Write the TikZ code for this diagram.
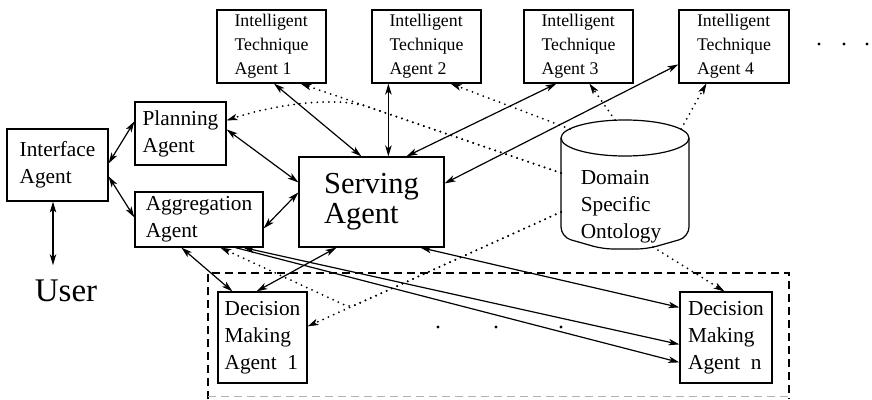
\documentclass[tikz,border=0pt]{standalone}
\usepackage{fontspec}
\setmainfont{Liberation Serif}
\usetikzlibrary{arrows.meta,calc}
\begin{document}
\begin{tikzpicture}[x=1pt,y=-1pt,
  box/.style={draw, line width=1.2pt, inner sep=0pt, align=left},
  ita/.style={box, minimum width=109pt, minimum height=73pt,
    font=\fontsize{17.8}{24}\selectfont},
  agentbox/.style={box, font=\fontsize{21.3}{27}\selectfont},
  tip/.tip={Stealth[length=11pt,width=6.5pt,inset=3pt]},
  link/.style={line width=1.2pt, tip-tip},
  onelink/.style={line width=1.2pt, -tip},
  dotlink/.style={line width=2pt, line cap=round, dash pattern=on 0pt off 5.8pt,
    -{Stealth[length=11pt,width=6.5pt,inset=3pt,line width=0.6pt]}},
  shape line/.style={line width=1.2pt},
  groupframe/.style={line width=1.2pt, dash pattern=on 8pt off 5pt},
  dotmark/.style={fill=black}
]
\useasboundingbox (0,0) rectangle (872,399);

% group of decision making agents
\draw[groupframe] (208,399) -- (208,273) -- (789,273) -- (789,399);
\draw[groupframe, gray!60, line width=0.8pt] (208,396) -- (789,396);

% intelligent technique agents
\node[ita] (ita1) at (271.5,46.5) {Intelligent\\Technique\\Agent 1};
\node[ita] (ita2) at (426.5,46.5) {Intelligent\\Technique\\Agent 2};
\node[ita] (ita3) at (578.5,46.5) {Intelligent\\Technique\\Agent 3};
\node[ita, minimum width=110pt] (ita4) at (734,46.5) {Intelligent\\Technique\\Agent 4};
\fill[dotmark] (819,44) circle (1.6pt);
\fill[dotmark] (844,44) circle (1.6pt);
\fill[dotmark] (867,44) circle (1.6pt);

% agents on the left and centre
\node[agentbox, minimum width=101pt, minimum height=72pt] (iface) at (57.5,165) {Interface\\Agent};
\node[agentbox, minimum width=91pt, minimum height=63pt] (plan) at (180.5,133.5) {Planning\\Agent};
\node[agentbox, minimum width=128pt, minimum height=55pt] (aggr) at (199,219.5) {Aggregation\\Agent};
\node[box, minimum width=145pt, minimum height=90pt,
  font=\fontsize{30.5}{30}\selectfont] (serv) at (371.5,202) {Serving\\Agent};
\node[inner sep=0pt, anchor=base, font=\fontsize{33}{36}\selectfont] (user) at (66,301) {User};

% decision making agents
\node[agentbox, minimum width=89pt, minimum height=91pt] (dm1) at (262.5,337.5) {Decision\\Making\\Agent~~1};
\node[agentbox, minimum width=92pt, minimum height=91pt] (dmn) at (726,337.5) {Decision\\Making\\Agent~~n};
\fill[dotmark] (438,327) circle (1.6pt);
\fill[dotmark] (496,327) circle (1.6pt);
\fill[dotmark] (561,327) circle (1.6pt);

% domain specific ontology (cylinder)
\draw[shape line] (625,138) ellipse (64pt and 18pt);
\draw[shape line, rounded corners=10pt] (561,138) -- (561,237) -- (603,249) -- (647,249) -- (689,237) -- (689,138);
\node[align=left, inner sep=0pt, font=\fontsize{21.3}{27}\selectfont] (onto) at (621,207) {Domain\\Specific\\Ontology};
\coordinate (oA) at (561,173);
\coordinate (oB) at (561,212);
\coordinate (oC) at (570,129);
\coordinate (oD) at (615,120);
\coordinate (oE) at (681,129);
\coordinate (oF) at (653,247);

% message links
\draw[link] ($(iface.north east)+(0,35)$) -- ($(plan.north west)+(0,20)$);
\draw[link] ($(iface.north east)+(0,48)$) -- ($(aggr.north west)+(0,26)$);
\draw[link] ($(iface.south)+(-4.5,0)$) -- ($(user.north)+(-13,-14)$);
\draw[link] ($(plan.north east)+(0,28)$) -- ($(serv.north west)+(0,26)$);
\draw[link] ($(aggr.north east)+(0,37)$) -- ($(serv.north west)+(0,36)$);
\draw[link] ($(ita1.south)+(2.5,0)$) -- ($(serv.north west)+(63,0)$);
\draw[link] ($(ita2.south west)+(17,0)$) -- ($(serv.north west)+(90,0)$);
\draw[link] ($(ita3.south west)+(33,0)$) -- ($(serv.north west)+(108,0)$);
\draw[link] ($(ita4.north west)+(0,55)$) -- ($(serv.north east)+(0,27)$);
\draw[link] ($(aggr.south west)+(47,0)$) -- ($(dm1.north west)+(15,0)$);
\draw[link] ($(serv.south west)+(38,0)$) -- ($(dm1.north west)+(39,0)$);
\draw[link] ($(serv.south west)+(122,0)$) -- ($(dmn.north west)+(0,16)$);
\draw[link] ($(aggr.south west)+(109,0)$) -- ($(dmn.north west)+(0,53)$);
\draw[onelink] ($(aggr.south west)+(101,0)$) -- ($(dmn.north west)+(0,71)$);

% ontology links
\draw[dotlink] (oA) -- ($(ita1.south east)+(-26,0)$);
\draw[dotlink] (oA) -- (365,106) .. controls (330,96) and (270,106) .. ($(plan.north east)+(0,19)$);
\draw[dotlink] (oC) -- ($(ita2.south east)+(-31,0)$);
\draw[dotlink] (oD) -- ($(ita3.south west)+(66,0)$);
\draw[dotlink] (oE) -- ($(ita4.south west)+(28,0)$);
\draw[dotlink] (oF) -- ($(dmn.north west)+(45,0)$);
\draw[dotlink] (oB) -- ($(dm1.north east)+(0,35)$);
\draw[dotlink, rounded corners=6pt] (oB) -- (350,307.5) -- ($(aggr.south west)+(86,0)$);
\end{tikzpicture}
\end{document}
